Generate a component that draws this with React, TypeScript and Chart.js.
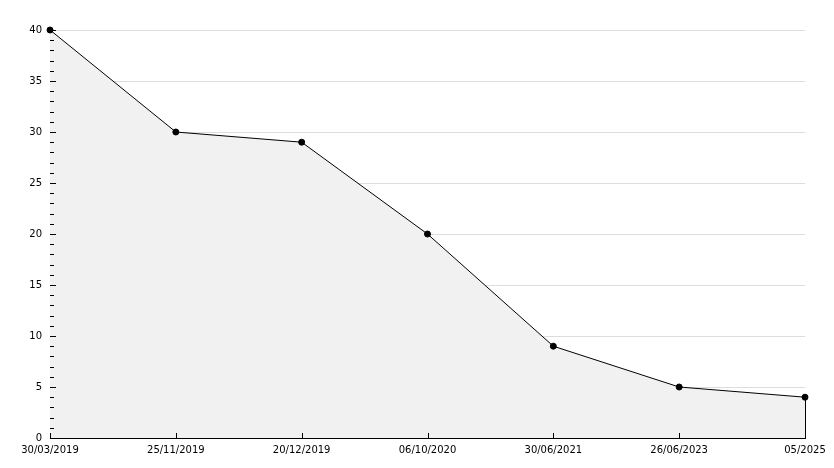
import React, { useEffect, useRef } from "react";
import { Chart, registerables } from "chart.js";

Chart.register(...registerables);

const categories = ["30/03/2019", "25/11/2019", "20/12/2019", "06/10/2020", "30/06/2021", "26/06/2023", "05/2025"];
const values = [40, 30, 29, 20, 9, 5, 4];
const yMin = 0;
const yMax = 40;
const yStep = 5;

const tickPlugin = {
  id: "insideTicks",
  afterDatasetsDraw(chart: any) {
    const ctx = chart.ctx;
    const xs = chart.scales.x;
    const ys = chart.scales.y;
    const area = chart.chartArea;
    ctx.save();
    ctx.strokeStyle = "#000";
    ctx.lineWidth = 1;
    ctx.beginPath();
    for (let v = yMin; v <= yMax; v += 1) {
      const y = Math.round(ys.getPixelForValue(v)) + 0.5;
      const len = v % yStep === 0 ? 6 : 4;
      ctx.moveTo(area.left, y);
      ctx.lineTo(area.left + len, y);
    }
    for (let i = 0; i < categories.length; i++) {
      const x = Math.round(xs.getPixelForValue(i)) + 0.5;
      ctx.moveTo(x, area.bottom);
      ctx.lineTo(x, area.bottom - 5);
    }
    const meta = chart.getDatasetMeta(0);
    const last = meta.data[meta.data.length - 1];
    const lx = Math.round(last.x) + 0.5;
    ctx.moveTo(lx, last.y);
    ctx.lineTo(lx, area.bottom);
    ctx.stroke();
    ctx.restore();
  },
};

export default function App() {
  const ref = useRef<HTMLCanvasElement>(null);
  useEffect(() => {
    if (!ref.current) return;
    const chart = new Chart(ref.current, {
      type: "line",
      data: {
        labels: categories,
        datasets: [
          {
            data: values,
            borderColor: "#000",
            borderWidth: 1,
            backgroundColor: "#f1f1f1",
            fill: "origin",
            tension: 0,
            clip: false,
            pointRadius: 3,
            pointBackgroundColor: "#000",
            pointBorderColor: "#000",
            pointBorderWidth: 1,
          },
        ],
      },
      options: {
        responsive: false,
        animation: false,
        layout: { padding: { top: 30, right: 29, left: 0, bottom: 0 } },
        plugins: { legend: { display: false }, tooltip: { enabled: false } },
        scales: {
          x: {
            offset: false,
            grid: { display: false, drawTicks: false },
            border: { display: true, color: "#000", width: 1 },
            ticks: {
              color: "#000",
              font: { family: "DejaVu Sans", size: 10 },
              padding: 6,
              maxRotation: 0,
              autoSkip: false,
            },
            afterFit(scale: any) {
              scale.height = 30;
            },
          },
          y: {
            min: yMin,
            max: yMax,
            grid: { color: "#dddddd", drawTicks: false },
            border: { display: true, color: "#000", width: 1 },
            ticks: {
              stepSize: yStep,
              color: "#000",
              font: { family: "DejaVu Sans", size: 10 },
              padding: 8,
            },
            afterFit(scale: any) {
              scale.width = 50;
            },
          },
        },
      },
      plugins: [tickPlugin],
    });
    return () => chart.destroy();
  }, []);
  return (
    <div style={{ position: "fixed", left: 0, top: 0, width: 834, height: 468, background: "#fff" }}>
      <canvas ref={ref} width={834} height={468} style={{ width: 834, height: 468, display: "block" }} />
    </div>
  );
}
